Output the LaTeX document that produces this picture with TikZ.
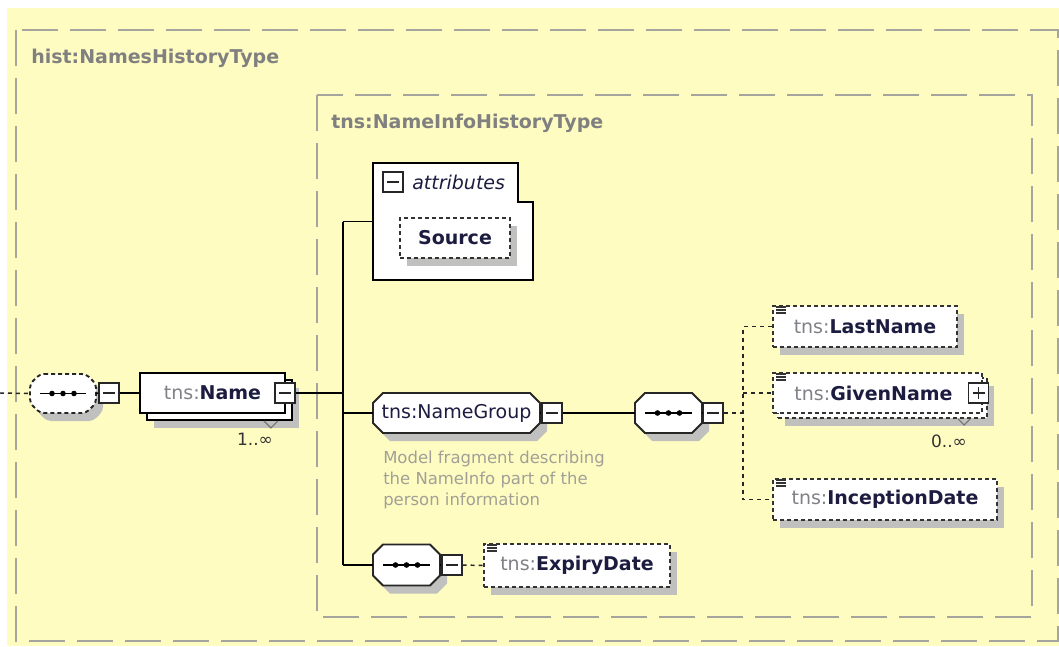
\documentclass[tikz,border=0pt]{standalone}
\usepackage{fontspec}
\setmainfont{DejaVu Sans}
\usetikzlibrary{shadows,calc}
\newdimen\pxu \pxu=0.75pt
\definecolor{bgyellow}{RGB}{255,252,194}
\definecolor{bordergray}{RGB}{165,165,158}
\definecolor{pfx}{RGB}{128,128,134}
\definecolor{navy}{RGB}{28,28,64}
\definecolor{shadowgray}{RGB}{192,192,190}
\definecolor{descgray}{RGB}{160,160,150}
\definecolor{titlegray}{RGB}{128,128,128}
\newcommand\lblfont{\fontsize{14.25}{17}\selectfont}
\newcommand\descfont{\fontsize{12.35}{15.5}\selectfont}
\newcommand\multfont{\fontsize{12.75}{15}\selectfont}
% octagon path around the origin of the current scope, offset by (#1,#2)
\newcommand\octapath[2]{(-\octA+\octC+#1,-\octB+#2) -- (\octA-\octC+#1,-\octB+#2) -- (\octA+#1,-\octB+\octC+#2) -- (\octA+#1,\octB-\octC+#2) -- (\octA-\octC+#1,\octB+#2) -- (-\octA+\octC+#1,\octB+#2) -- (-\octA+#1,\octB-\octC+#2) -- (-\octA+#1,-\octB+\octC+#2) -- cycle}
% \octashape{x}{y}{w}{h}{extra options}{sequence symbol 1/0}
\newcommand\octashape[6]{%
  \pgfmathsetmacro\octA{#3/2}\pgfmathsetmacro\octB{#4/2}\pgfmathsetmacro\octC{10}%
  \begin{scope}[shift={(#1,#2)}]
    \fill[shadowgray,#5] \octapath{7}{8};
    \draw[grpline,#5] \octapath{0}{0};
    \ifnum#6=1
      \draw[line width=1.1pt] (-\octA+10,0) -- (\octA-10,0);
      \foreach \d in {-11,0,11} \fill[black] (\d,0) circle (2.1pt);
    \fi
  \end{scope}}
\tikzset{
  bigdash/.style={draw=bordergray, line width=2pt, dash pattern=on 27pt off 9pt},
  conn/.style={draw=black, line width=1.1pt},
  dconn/.style={draw=black!85, line width=1.1pt, dash pattern=on 3pt off 3pt},
  shad/.style={drop shadow={shadow xshift=5.5pt, shadow yshift=-6pt, fill=shadowgray, opacity=1}},
  elem/.style={rectangle, draw=black, line width=1.4pt, fill=white, inner sep=0pt, font=\lblfont, text=navy},
  optelem/.style={rectangle, draw=black!80, line width=1.5pt, dash pattern=on 3pt off 2.25pt, fill=white, inner sep=0pt, font=\lblfont, text=navy},
  grpline/.style={draw=black!85, line width=1.4pt, fill=white},
  anchorbox/.style={rectangle, inner sep=0pt, font=\lblfont, text=navy},
  optseq/.style={dash pattern=on 3pt off 2.25pt, rounded corners=3pt},
  minusbox/.style={rectangle, draw=black!85, line width=1pt, fill=white, minimum size=20\pxu, inner sep=0pt,
    path picture={\draw[line width=1pt] ([xshift=4\pxu]path picture bounding box.west) -- ([xshift=-4\pxu]path picture bounding box.east);}},
  plusbox/.style={minusbox,
    path picture={\draw[line width=1pt] ([xshift=4\pxu]path picture bounding box.west) -- ([xshift=-4\pxu]path picture bounding box.east)
      ([yshift=4\pxu]path picture bounding box.south) -- ([yshift=-4\pxu]path picture bounding box.north);}},
  icon/.style={draw=black!80, line width=0.8pt},
  vmark/.style={draw=black!55, line width=0.8pt},
}
\begin{document}
\begin{tikzpicture}[x=0.75pt,y=-0.75pt]
\useasboundingbox (0,0) rectangle (1059,646);
\fill[white] (0,0) rectangle (1059,646);
\fill[bgyellow] (7,8) rectangle (1059,646);
% frames
\draw[bigdash] (16,30) rectangle (1058,641);
\draw[bigdash] (317,95) rectangle (1032,617);
\node[anchor=west, inner sep=0pt, font=\bfseries\lblfont, text=titlegray] (t1) at (31,58) {hist:NamesHistoryType};
\node[anchor=west, inner sep=0pt, font=\bfseries\lblfont, text=titlegray] (t2) at (331,123) {tns:NameInfoHistoryType};
% left part
\coordinate (lend) at (0,393);
\octashape{63}{393.5}{66}{39}{optseq}{1}
\node[anchorbox, minimum width=66\pxu, minimum height=39\pxu] (S0) at (63,393.5) {};
\node[minusbox] (M0) at (109,393) {};
\node[elem, shad, minimum width=145\pxu, minimum height=40\pxu] (NameB) at (219.5,400) {};
\node[elem, minimum width=145\pxu, minimum height=40\pxu] (Name) at (212.5,393) {\textcolor{pfx}{tns:}\textbf{Name}};
\node[minusbox] (NameM) at (285,393) {};
\draw[vmark] ([xshift=-29\pxu]NameB.south east) -- ++(7,7) -- ++(7,-7);
\node[font=\multfont, text=black!80] (m1) at (255,439) {1..∞};
\draw[dconn] (lend) -- (S0.west);
\draw[conn] (S0.east) -- (M0.west);
\draw[conn] (M0.east) -- (Name.west);
% trunk
\coordinate (tTop) at (343,221.5);
\coordinate (tBot) at (343,565);
\draw[conn] (NameM.east) -- (NameM.east -| tTop);
\draw[conn] (tTop) -- (tBot);
% attributes
\node[minimum width=160\pxu, minimum height=117\pxu, inner sep=0pt] (attr) at (453,221.5) {};
\draw[draw=black, line width=1.4pt, fill=white] (attr.north west) -- ([xshift=-15\pxu]attr.north east) -- ([xshift=-15\pxu,yshift=-39\pxu]attr.north east) -- ([yshift=-39\pxu]attr.north east) -- (attr.south east) -- (attr.south west) -- cycle;
\draw[conn] (tTop) -- (attr.west);
\node[minusbox] (attrM) at (393,182) {};
\node[anchor=west, inner sep=0pt, font=\itshape\lblfont, text=navy] (attrL) at (412,182) {attributes};
\node[optelem, shad, minimum width=110\pxu, minimum height=40\pxu, font=\bfseries\lblfont] (Src) at (455,238) {Source};
% name group
\octashape{456.5}{413}{167}{40}{}{0}
\node[anchorbox, minimum width=167\pxu, minimum height=40\pxu] (NG) at (456.5,413) {tns:NameGroup};
\node[minusbox] (NGM) at (552,413) {};
\draw[conn] (tTop |- NG.west) -- (NG.west);
\draw[conn] (NG.east) -- (NGM.west);
\node[anchor=north west, align=left, inner sep=0pt, font=\descfont, text=descgray] (desc) at (383,451) {Model fragment describing\\the NameInfo part of the\\person information};
\octashape{668.5}{413}{67}{40}{}{1}
\node[anchorbox, minimum width=67\pxu, minimum height=40\pxu] (S1) at (668.5,413) {};
\draw[conn] (NGM.east) -- (S1.west);
\node[minusbox] (S1M) at (713,413) {};
\draw[conn] (S1.east) -- (S1M.west);
\coordinate (ch) at (743,413);
\draw[dconn] (S1M.east) -- (ch);
% children
\node[optelem, shad, minimum width=184\pxu, minimum height=41\pxu] (LN) at (865,326.5) {\textcolor{pfx}{tns:}\textbf{LastName}};
\node[optelem, shad, minimum width=209\pxu, minimum height=40\pxu] (GNB) at (882.5,398) {};
\node[optelem, minimum width=209\pxu, minimum height=40\pxu] (GN) at (877.5,393) {\textcolor{pfx}{tns:}\textbf{GivenName}\hspace*{8\pxu}};
\node[plusbox] (GNP) at (978.5,393) {};
\draw[vmark] ([xshift=-30\pxu]GNB.south east) -- ++(6,6) -- ++(6,-6);
\node[font=\multfont, text=black!80] (m2) at (949,441) {0..∞};
\node[optelem, shad, minimum width=224\pxu, minimum height=41\pxu] (ID) at (885,499.5) {\textcolor{pfx}{tns:}\textbf{InceptionDate}};
\draw[dconn] (LN.west) -| (ch) |- (ID.west);
\draw[dconn] (ch |- GN.west) -- (GN.west);
% expiry
\octashape{406.5}{565}{67}{41}{}{1}
\node[anchorbox, minimum width=67\pxu, minimum height=41\pxu] (S2) at (406.5,565) {};
\draw[conn] (tBot) -- (S2.west);
\node[minusbox] (S2M) at (452,565) {};
\draw[conn] (S2.east) -- (S2M.west);
\node[optelem, shad, minimum width=186\pxu, minimum height=43\pxu] (ED) at (577,565.5) {\textcolor{pfx}{tns:}\textbf{ExpiryDate}};
\draw[dconn] (S2M.east) -- (ED.west);
% element icons
\foreach \n in {LN,GN,ID,ED}{
  \draw[icon] ([shift={(4,2)}]\n.north west) -- ++(10,0)
              ([shift={(4,5)}]\n.north west) -- ++(10,0)
              ([shift={(4,8)}]\n.north west) -- ++(10,0);
}
\end{tikzpicture}
\end{document}
